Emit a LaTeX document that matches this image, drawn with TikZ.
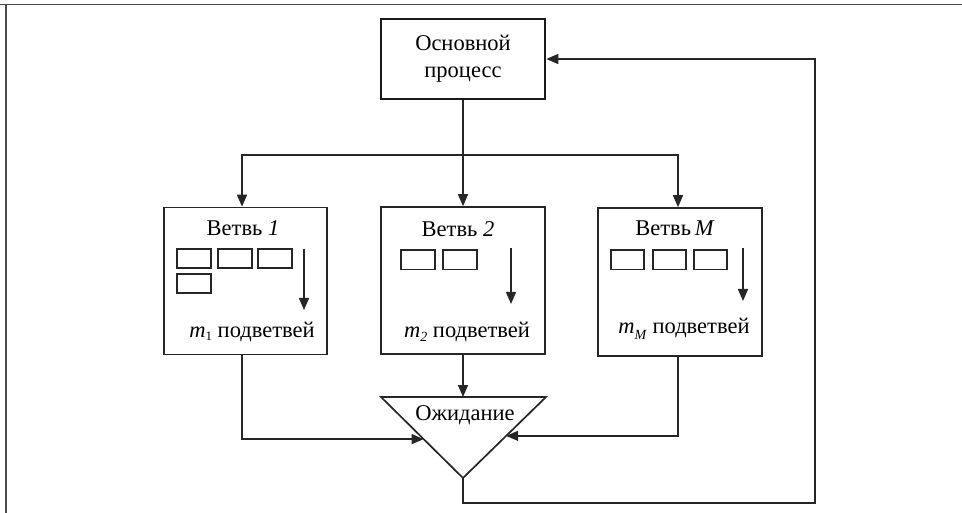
\documentclass[tikz,border=0pt]{standalone}
\usepackage{fontspec}
\setmainfont{Liberation Serif}
\usetikzlibrary{arrows.meta,calc}
\begin{document}
\begin{tikzpicture}[x=1pt,y=-1pt,
  ln/.style={draw=black!85,line width=1.4pt},
  arr/.style={ln,-{Triangle[length=12pt,width=10pt]}},
  mainbox/.style={draw=black!90,line width=2.6pt,minimum width=164pt,minimum height=80pt,inner sep=0pt,align=center,font=\fontsize{22.5}{27}\selectfont},
  branch/.style={draw=black!85,line width=1.6pt,minimum width=164pt,minimum height=147pt,inner sep=0pt},
  lbl/.style={inner sep=0pt,font=\fontsize{22.5}{26}\selectfont},
  cell/.style={draw=black!85,line width=1.6pt},
  frame/.style={draw=black!70,line width=1.6pt}]
\useasboundingbox (0,0) rectangle (962,513);
% frame
\draw[frame] (0,4.5) -- (962,4.5);
\draw[frame] (6,4.5) -- (6,513);
% main process
\node[mainbox] (main) at (463,59) {Основной\\процесс};
% branches
\node[branch,minimum width=163pt] (b1) at (245.5,281) {};
\node[branch] (b2) at (463,280.5) {};
\node[branch,minimum height=148pt] (bM) at (680,282) {};
% titles
\node[lbl] (t1) at (243,228) {Ветвь \textit{1}};
\node[lbl] (t2) at (458,229) {Ветвь \textit{2}};
\node[lbl] (tM) at (675,228) {Ветвь\,\textit{M}};
% sub-branch counts
\node[lbl] (m1) at (252,332) {\textit{m}\raisebox{-0.3ex}{\fontsize{13}{13}\selectfont 1} подветвей};
\node[lbl] (m2) at (467,332) {\textit{m}\raisebox{-0.4ex}{\fontsize{14}{14}\selectfont\textit{2}} подветвей};
\node[lbl] (mM) at (684,329) {\textit{m}\raisebox{-0.6ex}{\fontsize{14}{14}\selectfont\textit{M}} подветвей};
% cells
\foreach \x in {177,218,258} \draw[cell] (\x,249) rectangle ++(34,19);
\draw[cell] (177,274) rectangle ++(34,19);
\foreach \x in {401,443} \draw[cell] (\x,250) rectangle ++(34,19.5);
\foreach \x in {611,653,694} \draw[cell] (\x,250) rectangle ++(33,19.5);
% inner arrows
\coordinate (a1s) at (304,249); \coordinate (a1e) at (304,310);
\coordinate (a2s) at (511,248); \coordinate (a2e) at (511,304);
\coordinate (aMs) at (743,248); \coordinate (aMe) at (743,301);
\draw[arr] (a1s) -- (a1e);
\draw[arr] (a2s) -- (a2e);
\draw[arr] (aMs) -- (aMe);
% waiting triangle
\coordinate (tl) at (381,397);
\coordinate (tr) at (546,397);
\coordinate (tip) at (463,478);
\coordinate (tc) at (463,397);
\draw[ln,line width=1.7pt,line join=miter] (tl) -- (tr) -- (tip) -- cycle;
\node[lbl] (wait) at (465,415) {Ожидание};
\coordinate (wl) at ($(tl)!0.52!(tip)$);
\coordinate (wr) at ($(tr)!0.48!(tip)$);
% distribution
\coordinate (split) at (463,155);
\draw[ln] (main.south) -- (split);
\draw[arr] (split) -- (b2.north);
\draw[arr] (split) -| ([xshift=-3.5pt]b1.north);
\draw[arr] (split) -| ([xshift=-2pt]bM.north);
% to waiting
\draw[arr] ([xshift=-3.5pt]b1.south) |- (wl);
\draw[arr] ([xshift=-2pt]bM.south) |- (wr);
\draw[arr] (b2.south) -- (tc);
% feedback
\coordinate (fb) at (815,503);
\draw[arr] (tip) |- (fb) |- (main.east);
\end{tikzpicture}
\end{document}
